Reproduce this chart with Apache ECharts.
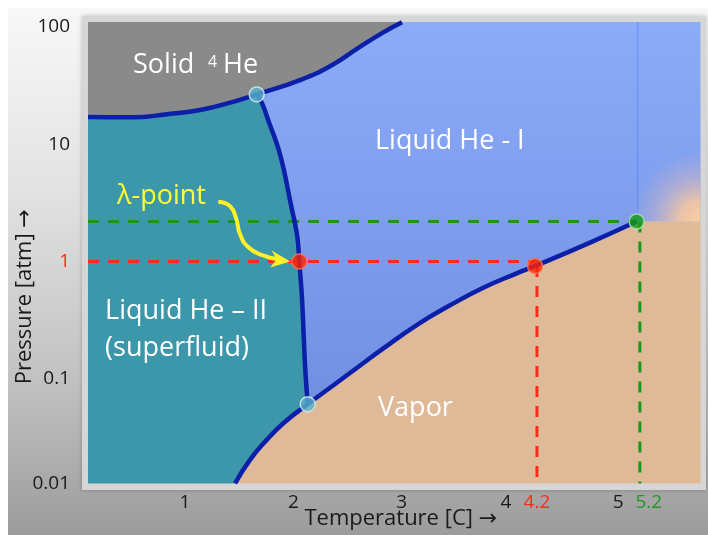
<!DOCTYPE html>
<html><head><meta charset="utf-8">
<script src="https://cdn.jsdelivr.net/npm/echarts@6/dist/echarts.min.js"></script>
<style>html,body{margin:0;padding:0;background:#fff}#c{width:708px;height:535px}</style>
</head><body><div id="c"></div>
<script>
// ---- data (temperature, pressure in atm) ----
const T_MELT = [0.104, 0.52, 0.834, 1.139, 1.443, 1.662, 2.062, 2.339, 2.597, 2.819, 3.004];
const P_MELT = [17.0, 16.9, 18.0, 19.5, 22.9, 26.5, 35.1, 46.1, 65.6, 88.1, 109];
const T_LAMBDA = [1.662, 1.711, 1.78, 1.86, 1.915, 1.97, 2.036, 2.055, 2.080, 2.108, 2.133];
const P_LAMBDA = [26.5, 22.3, 14.9, 9.3, 5.9, 3.3, 1.65, 1.0, 0.489, 0.132, 0.061];
const T_VAPOR = [1.462, 1.600, 1.754, 1.908, 2.133, 2.364, 2.595, 2.831, 3.139, 3.447, 3.754, 4.063, 4.232, 4.740, 5.17];
const P_VAPOR = [0.0129, 0.0205, 0.0303, 0.0420, 0.061, 0.0875, 0.126, 0.182, 0.288, 0.424, 0.598, 0.794, 0.916, 1.45, 2.19];
const POINTS_T = [1.662, 2.133, 2.055, 4.232, 5.17];
const POINTS_P = [26.5, 0.061, 1.0, 0.916, 2.19];
const POINTS_KIND = ['triple', 'triple', 'boil', 'boil', 'crit'];
const BOIL_T = 4.25, BOIL_P = 1.0;     // red guide (4.2 K, 1 atm)
const CRIT_T = 5.2, CRIT_P = 2.19;     // green guide (5.2 K)
const Y_TICKS = [0.01, 0.1, 1, 10, 100];
const X_TICKS = [1, 2, 3, 4, 5];
const X_LABEL_VALUES = [1, 2, 3, 4, 4.25, 5, 5.2];
const X_LABEL_TEXT = ['1', '2', '3', '4', '4.2', '5', '5.2'];
const ARROW_T = [1.307, 1.416, 1.471, 1.508, 1.582, 1.711, 1.859];
const ARROW_P = [3.23, 2.96, 2.34, 1.71, 1.33, 1.135, 1.05];
const LABELS = [
  {t: 0.52, p: 46.6, text: 'Solid', size: 27, color: '#fff'},
  {t: 1.212, p: 49.4, text: '4', size: 16, color: '#fff'},
  {t: 1.351, p: 46.6, text: 'He', size: 27, color: '#fff'},
  {t: 2.754, p: 10.5, text: 'Liquid He - I', size: 27, color: '#fff'},
  {t: 0.372, p: 3.57, text: 'λ-point', size: 27, color: '#ffff33'},
  {t: 0.262, p: 0.379, text: 'Liquid He – II', size: 27, color: '#fff'},
  {t: 0.262, p: 0.182, text: '(superfluid)', size: 27, color: '#fff'},
  {t: 2.782, p: 0.0568, text: 'Vapor', size: 27, color: '#fff'}
];

// ---- build ----
const lg = Math.log10;
const X0 = 0.104, X1 = 5.76, Y0 = -1.89, Y1 = 2.04;
const FONT = '"Open Sans", "DejaVu Sans", sans-serif';
const melt = T_MELT.map((t, i) => [t, lg(P_MELT[i])]);
const lam = T_LAMBDA.map((t, i) => [t, lg(P_LAMBDA[i])]);
const vap = T_VAPOR.map((t, i) => [t, lg(P_VAPOR[i])]);
const crit = vap[vap.length - 1];
const TOP = Y1 + 0.3, BOT = Y0 - 0.2;

const regions = [
  {pts: [[X0, TOP], ...melt, [melt[melt.length - 1][0], TOP]], fill: '#8a8a8a'},
  {pts: [...melt.slice(0, 6), ...lam.slice(1), ...vap.slice(0, 4).reverse(), [X0, BOT]], fill: '#3d97aa'},
  {pts: [...melt.slice(5), [X1, TOP], [X1, crit[1]], ...vap.slice(4).reverse(), ...lam.slice(1, 10).reverse()],
   fill: {type: 'linear', x: 0, y: 0, x2: 0, y2: 1, colorStops: [{offset: 0, color: '#8eadfa'}, {offset: 1, color: '#7190e2'}]}},
  {pts: [...vap, [X1, crit[1]], [X1, BOT], [vap[0][0], BOT]], fill: '#dfba99'},
  {pts: [crit, [X1, crit[1]], [X1, TOP], [crit[0], TOP]],
   fill: {type: 'radial', x: 1, y: 1, r: 1.1, colorStops: [
     {offset: 0, color: 'rgba(252,206,160,1)'}, {offset: 0.3, color: 'rgba(245,200,160,0.9)'},
     {offset: 0.65, color: 'rgba(215,185,190,0.45)'}, {offset: 1, color: 'rgba(200,180,200,0)'}]}}
];

const curveStyle = {color: '#0b1fa8', width: 4.5};
const dash = [11, 9];
const ptColors = {triple: ['#58b3ca', '#d8eef3'], boil: ['#ff2200', '#ff7755'], crit: ['#149c14', '#b0e4b0']};

const option = {
  animation: false,
  backgroundColor: '#ffffff',
  graphic: [
    {type: 'rect', z: -10, shape: {x: 8, y: 8, width: 700, height: 527},
     style: {fill: {type: 'linear', x: 0, y: 0, x2: 0, y2: 1, colorStops: [
       {offset: 0, color: '#f8f8f8'}, {offset: 0.35, color: '#e2e2e2'}, {offset: 0.7, color: '#c2c2c2'}, {offset: 1, color: '#9c9c9c'}]}}},
    {type: 'rect', z: -9, shape: {x: 82, y: 16, width: 624, height: 474},
     style: {fill: '#d6d6d6', shadowBlur: 4, shadowColor: 'rgba(0,0,0,0.25)'}}
  ],
  grid: {left: 88, right: 7.5, top: 22, bottom: 51.5, outerBoundsMode: 'none'},
  xAxis: {
    type: 'value', min: X0, max: X1,
    name: 'Temperature [C] →', nameLocation: 'middle', nameGap: 24, nameMoveOverlap: false,
    nameTextStyle: {fontFamily: FONT, fontSize: 22, color: '#1a1a1a', padding: [0, 0, 0, 13]},
    axisLine: {show: false}, splitLine: {show: false},
    axisTick: {show: true, inside: true, length: 11, customValues: X_TICKS, lineStyle: {color: '#444', width: 1}},
    axisLabel: {
      customValues: X_LABEL_VALUES, margin: 10, fontFamily: FONT, fontSize: 19,
      formatter: v => {
        const i = X_LABEL_VALUES.findIndex(x => Math.abs(x - v) < 1e-6);
        const s = X_LABEL_TEXT[i];
        if (s === '4') return '{l|4}';
        if (s === '4.2') return '{r|4.2}';
        if (s === '5.2') return '{g|5.2}';
        return '{k|' + s + '}';
      },
      rich: {
        k: {color: '#1a1a1a', fontFamily: FONT, fontSize: 19},
        l: {color: '#1a1a1a', fontFamily: FONT, fontSize: 19, padding: [0, 8, 0, 0]},
        r: {color: '#ff2a1a', fontFamily: FONT, fontSize: 19},
        g: {color: '#1f9a1f', fontFamily: FONT, fontSize: 19, padding: [0, 0, 0, 18]}
      }
    }
  },
  yAxis: {
    type: 'value', min: Y0, max: Y1,
    name: 'Pressure [atm] →', nameLocation: 'middle', nameRotate: 90, nameGap: 52, nameMoveOverlap: false,
    nameTextStyle: {fontFamily: FONT, fontSize: 22, color: '#1a1a1a', padding: [0, 88, 0, 0]},
    axisLine: {show: false}, splitLine: {show: false},
    axisTick: {show: true, inside: true, length: 11, customValues: Y_TICKS.slice(1).map(lg), lineStyle: {color: '#333', width: 1}},
    axisLabel: {
      customValues: [Y0, ...Y_TICKS.slice(1).map(lg)], margin: 18, fontFamily: FONT, fontSize: 19,
      formatter: v => v < -1.5 ? '0.01' : String(Y_TICKS[Math.round(v) + 2]),
      color: v => Math.abs(v) < 1e-6 ? '#ff2a1a' : '#1a1a1a'
    }
  },
  series: [
    {type: 'custom', z: 1, clip: true, data: regions.map((r, i) => [X0, Y0, i]),
     renderItem: (params, api) => {
       const r = regions[params.dataIndex];
       return {type: 'polygon', shape: {points: r.pts.map(p => api.coord(p))}, style: {fill: r.fill}};
     }},
    // guides
    {type: 'line', z: 2, symbol: 'none', data: [[X0, lg(CRIT_P)], [crit[0], lg(CRIT_P)]], lineStyle: {color: '#1a961a', width: 3, type: dash}},
    {type: 'line', z: 2, symbol: 'none', data: [[CRIT_T, lg(CRIT_P)], [CRIT_T, Y0]], lineStyle: {color: '#1a961a', width: 3, type: dash}},
    {type: 'line', z: 2, symbol: 'none', data: [[X0, lg(BOIL_P)], [POINTS_T[3], lg(BOIL_P)]], lineStyle: {color: '#ff2a1a', width: 3, type: dash}},
    {type: 'line', z: 2, symbol: 'none', data: [[BOIL_T, lg(POINTS_P[3])], [BOIL_T, Y0]], lineStyle: {color: '#ff2a1a', width: 3, type: dash}},
    {type: 'line', z: 2, symbol: 'none', data: [[crit[0] + 0.01, crit[1]], [crit[0] + 0.01, Y1]], lineStyle: {color: 'rgba(95,140,250,0.9)', width: 1}},
    // phase boundaries
    {type: 'line', z: 3, symbol: 'none', smooth: 0.5, data: melt, lineStyle: curveStyle},
    {type: 'line', z: 3, symbol: 'none', smooth: 0.4, data: lam, lineStyle: curveStyle},
    {type: 'line', z: 3, symbol: 'none', smooth: 0.5, data: vap, lineStyle: curveStyle},
    // lambda-point arrow
    {type: 'custom', z: 4, clip: true, data: [[ARROW_T[0], lg(ARROW_P[0])]],
     renderItem: (params, api) => {
       const pts = ARROW_T.map((t, i) => api.coord([t, lg(ARROW_P[i])]));
       const tip = api.coord([1.972, 0.0]);
       const up = api.coord([1.800, 0.094]);
       const nt = api.coord([1.845, 0.020]);
       const lo = api.coord([1.787, -0.050]);
       return {type: 'group', children: [
         {type: 'polyline', shape: {points: pts, smooth: 0.5}, style: {stroke: '#fff028', lineWidth: 4, fill: null}},
         {type: 'polygon', shape: {points: [tip, up, nt, lo]}, style: {fill: '#fff028'}}
       ]};
     }},
    // special points
    {type: 'scatter', z: 5, symbolSize: 15,
     data: POINTS_T.map((t, i) => ({value: [t, lg(POINTS_P[i])],
       itemStyle: {color: ptColors[POINTS_KIND[i]][0], borderColor: ptColors[POINTS_KIND[i]][1], borderWidth: 1.5}}))},
    // region labels
    {type: 'custom', z: 6, clip: false, data: LABELS.map(l => [l.t, lg(l.p)]),
     renderItem: (params, api) => {
       const l = LABELS[params.dataIndex];
       const c = api.coord([l.t, lg(l.p)]);
       return {type: 'text', x: c[0], y: c[1], style: {text: l.text, fill: l.color, fontSize: l.size, fontFamily: FONT, align: 'left', verticalAlign: 'middle'}};
     }}
  ]
};
const chart = echarts.init(document.getElementById('c'));
chart.setOption(option);
</script></body></html>
